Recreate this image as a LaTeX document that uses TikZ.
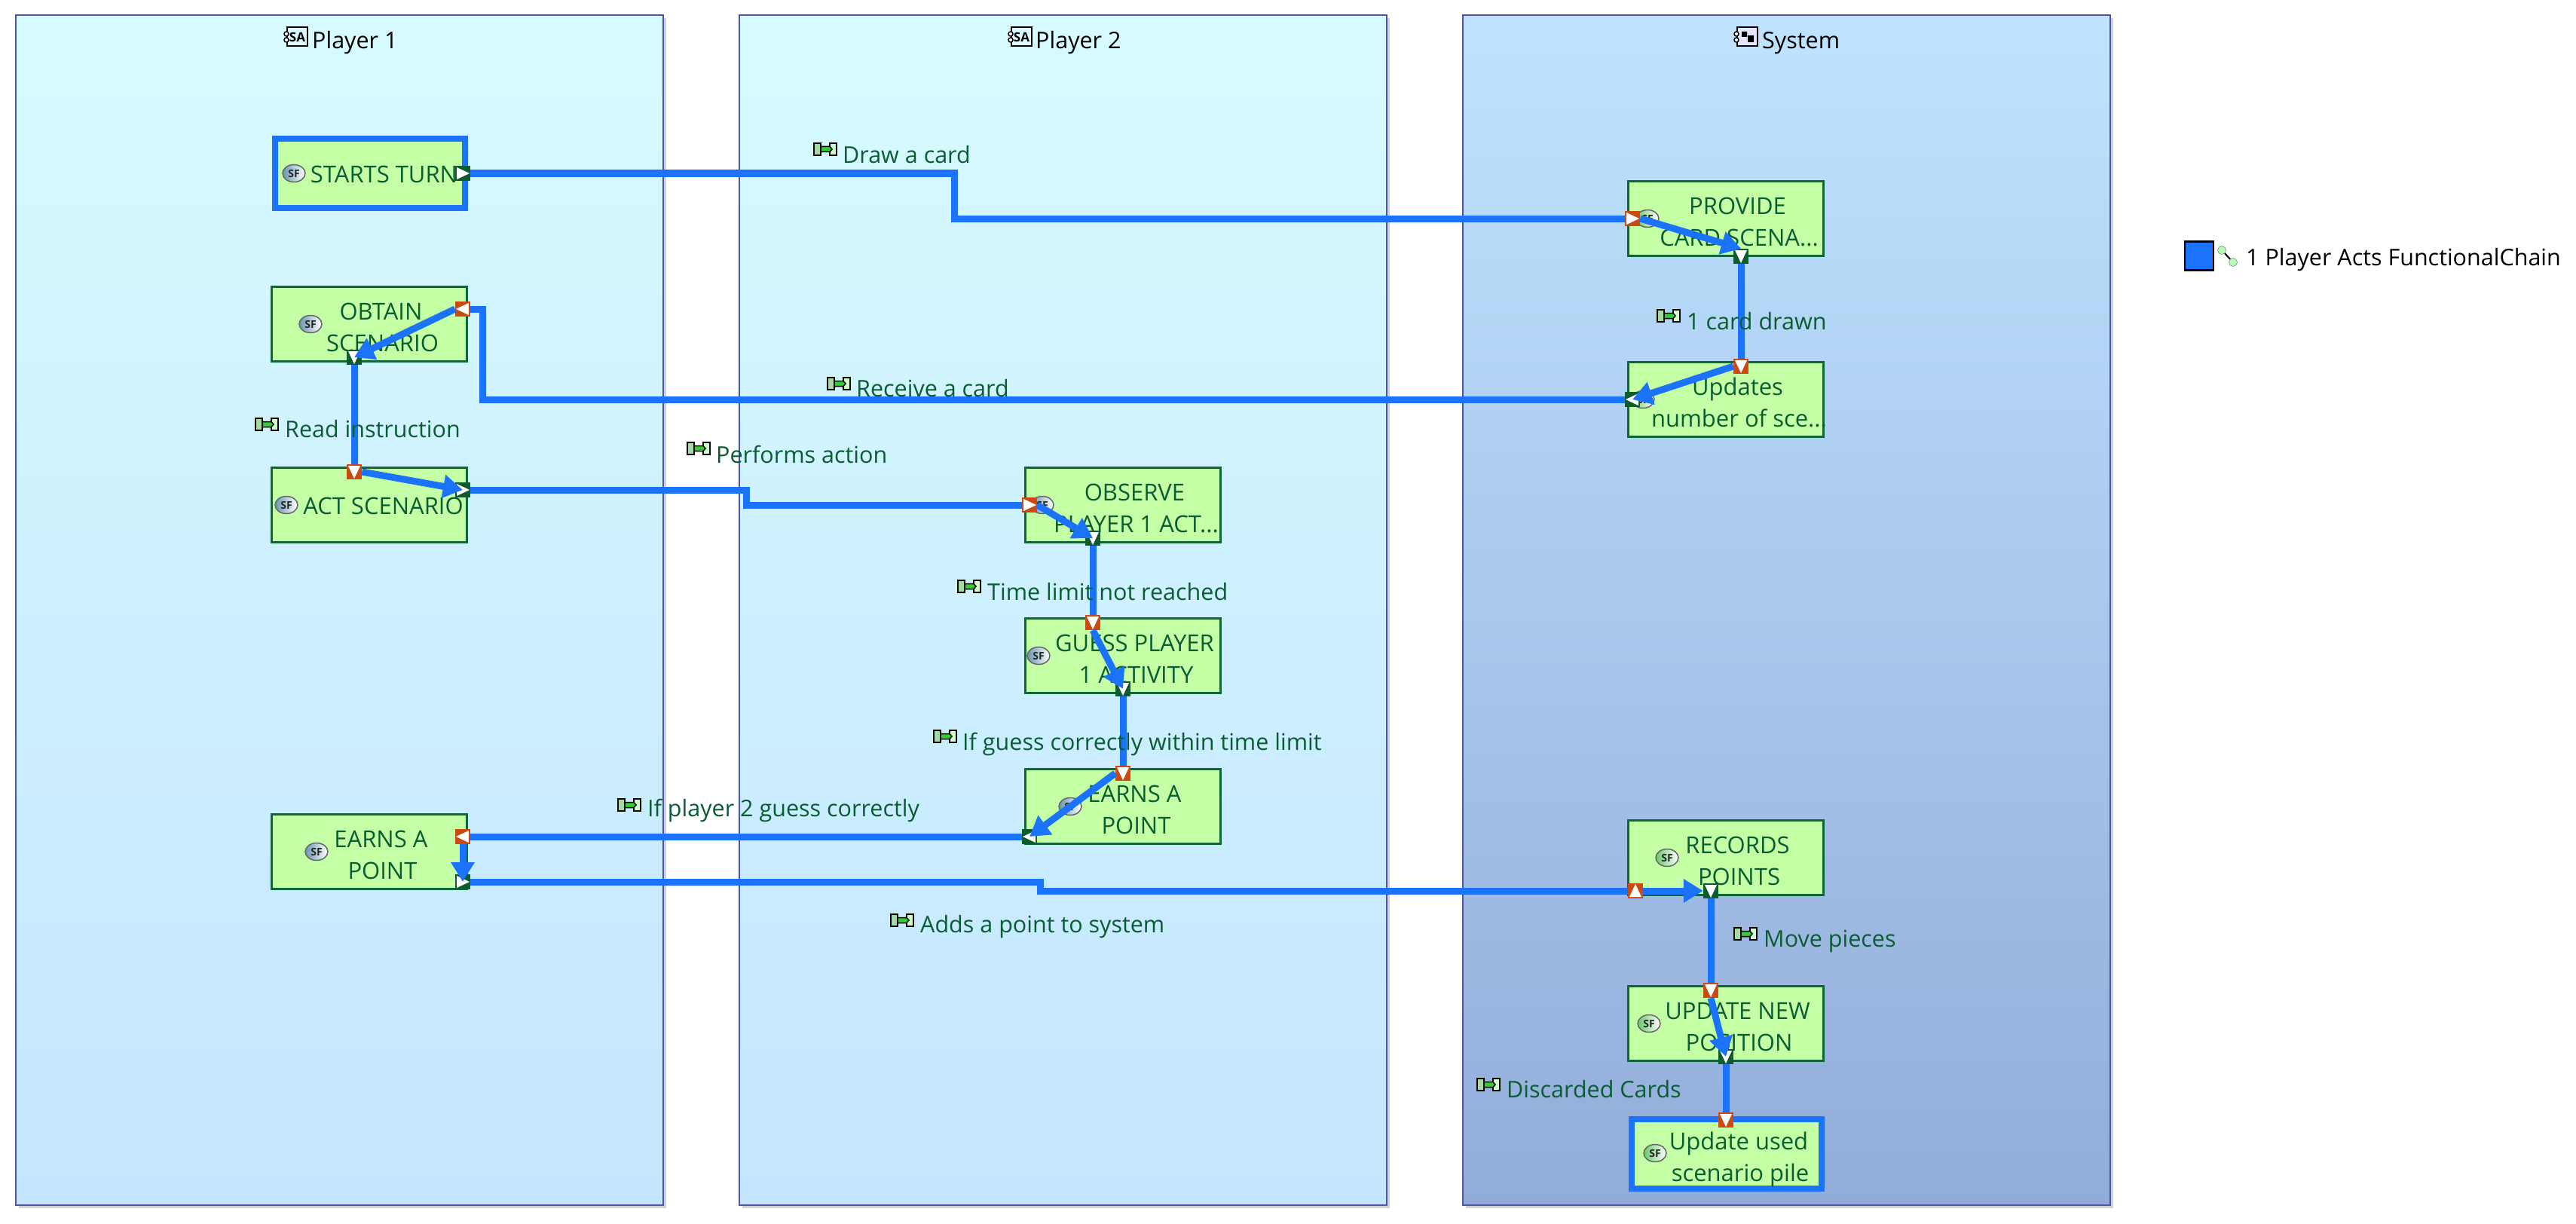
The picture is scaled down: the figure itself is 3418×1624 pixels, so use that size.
\documentclass[tikz,border=0pt]{standalone}
\usepackage{fontspec}
\setmainfont{Open Sans}
\usetikzlibrary{arrows.meta,shapes.geometric}
\definecolor{chainblue}{HTML}{1A73FA}
\definecolor{fnfill}{HTML}{C5FFA5}
\definecolor{fnline}{HTML}{0F6638}
\definecolor{fntext}{HTML}{0A5C32}
\definecolor{portorange}{HTML}{CB4A12}
\definecolor{portgreen}{HTML}{0D5C2E}
\definecolor{panelline}{HTML}{4F54A5}
\definecolor{acttop}{HTML}{D7FBFF}
\definecolor{actbot}{HTML}{C4E5FF}
\definecolor{systop}{HTML}{C0E4FF}
\definecolor{sysbot}{HTML}{92ACD9}
\newcommand{\ftxt}[2]{\raisebox{-14pt}[0pt][0pt]{\makebox[0pt]{\hspace{36pt}\begin{tabular}{@{}c@{}}\hspace*{-4pt}#1\\[1pt]#2\end{tabular}}}}
\newcommand{\fone}[1]{\raisebox{-13pt}[0pt][0pt]{\makebox[0pt]{\hspace{38pt}#1}}}
\tikzset{
  panel/.style={draw=panelline,line width=2.5pt,outer sep=0pt,minimum width=859pt,minimum height=1579pt,anchor=north west,inner sep=0pt},
  shadowbox/.style={fill=black!18,outer sep=0pt,minimum width=859pt,minimum height=1579pt,anchor=north west,inner sep=0pt},
  fnbox/.style={draw=fnline,line width=3pt,fill=fnfill,minimum width=259pt,minimum height=99pt,inner sep=0pt,text=fntext,font=\fontsize{31}{41}\selectfont},
  fnsel/.style={fnbox,draw=chainblue,line width=8pt,minimum width=252pt,minimum height=92pt},
  sfblue/.style={ellipse,draw=black!60,line width=1.5pt,left color=blue!35!cyan!30!gray!90,right color=white,minimum width=30pt,minimum height=23pt,inner sep=0pt,font=\fontsize{14}{14}\selectfont\bfseries,text=black!85},
  sfgreen/.style={sfblue,left color=green!45!gray!80,right color=white},
  portO/.style={rectangle,fill=portorange,minimum size=20pt,inner sep=0pt,
    path picture={\fill[white,shift={(path picture bounding box.center)}] ({-(#1)}:9) -- ({-(#1)+135}:11.3) -- ({-(#1)-135}:11.3) -- cycle;}},
  portG/.style={portO=#1,fill=portgreen},
  chain/.style={draw=chainblue,line width=9pt},
  chainarrow/.style={chain,-{Triangle[length=26pt,width=30pt]}},
  exch/.style={anchor=west,text=fntext,inner sep=0pt,font=\fontsize{30.5}{36}\selectfont},
  title/.style={anchor=west,text=black,inner sep=0pt,font=\fontsize{30.5}{36}\selectfont},
  exicon/.style={rectangle,inner sep=0pt,minimum width=33pt,minimum height=19pt,
    path picture={\begin{scope}[shift={(path picture bounding box.center)},draw=black,line width=2pt]
      \filldraw[fill=green!45!gray!50] (-15,-8) rectangle (-6,8);
      \filldraw[fill=green!20!white] (6,-8) rectangle (15,8);
      \filldraw[fill=green!60!gray,line width=1.5pt] (-6,-3.5) -- (6,-3.5) -- (9,0) -- (6,3.5) -- (-6,3.5) -- cycle;
    \end{scope}}},
  saicon/.style={rectangle,draw=black,line width=2pt,fill=#1,minimum width=27pt,minimum height=25pt,inner sep=0pt,font=\fontsize{17}{17}\selectfont\bfseries},
  stud/.style={circle,draw=black,line width=1.5pt,fill=white,minimum size=6pt,inner sep=0pt},
  legdot/.style={circle,draw=black!60,fill=green!30,minimum size=11pt,inner sep=0pt},
}
\begin{document}
\begin{tikzpicture}[x=1pt,y=-1pt]
\useasboundingbox (0,0) rectangle (3418,1624);
\fill[white] (0,0) rectangle (3418,1624);
% panels
\node[shadowbox] (shadow1) at (25,24) {};
\node[shadowbox] (shadow2) at (985,24) {};
\node[shadowbox] (shadow3) at (1945,24) {};
\node[panel,top color=acttop,bottom color=actbot] (player1) at (21,20) {};
\node[panel,top color=acttop,bottom color=actbot] (player2) at (981,20) {};
\node[panel,top color=systop,bottom color=sysbot] (system) at (1941,20) {};
\node[saicon=acttop] (i1) at (394.5,49) {SA};
\node[stud] at (380,45) {};\node[stud] at (380,53) {};
\node[title] (t1) at (414,57) {Player 1};
\node[saicon=acttop] (i2) at (1355.5,49) {SA};
\node[stud] at (1341,45) {};\node[stud] at (1341,53) {};
\node[title] (t2) at (1374,57) {Player 2};
\node[saicon=blue!10] (i3) at (2318,49) {};
\node[stud] at (2304,45) {};\node[stud] at (2304,53) {};
\fill[black] (2311,42) rectangle (2318,49) (2319,47) rectangle (2327,56);
\node[title] (t3) at (2338,57) {System};
% functions
\node[fnsel] (starts) at (490.5,230) {\fone{STARTS TURN}};
\node[fnbox] (obtain) at (489.5,429.5) {\ftxt{OBTAIN}{SCENARIO}};
\node[fnbox] (act) at (489.5,669.5) {\fone{ACT SCENARIO}};
\node[fnbox] (earns1) at (489.5,1129.5) {\ftxt{EARNS A}{POINT}};
\node[fnbox] (observe) at (1489.5,669.5) {\ftxt{OBSERVE}{PLAYER 1 ACT...}};
\node[fnbox] (guess) at (1489.5,870) {\ftxt{GUESS PLAYER}{1 ACTIVITY}};
\node[fnbox] (earns2) at (1489.5,1070) {\ftxt{EARNS A}{POINT}};
\node[fnbox] (provide) at (2289.5,289.5) {\ftxt{PROVIDE}{CARD SCENA...}};
\node[fnbox] (updates) at (2289.5,529.5) {\ftxt{Updates}{number of sce...}};
\node[fnbox] (records) at (2289.5,1137.5) {\ftxt{RECORDS}{POINTS}};
\node[fnbox] (update) at (2289.5,1357.5) {\ftxt{UPDATE NEW}{POSITION}};
\node[fnsel] (used) at (2291,1531) {\ftxt{Update used}{scenario pile}};
% icons
\node[sfblue] (s1) at (390,230) {SF};
\node[sfblue] (s2) at (412,430) {SF};
\node[sfblue] (s3) at (380,670) {SF};
\node[sfblue] (s4) at (420,1130) {SF};
\node[sfblue] (s5) at (1383,670) {SF};
\node[sfblue] (s6) at (1378,870) {SF};
\node[sfblue] (s7) at (1420,1070) {SF};
\node[sfgreen] (s8) at (2186,290) {SF};
\node[sfgreen] (s9) at (2180,530) {SF};
\node[sfgreen] (s10) at (2212,1138) {SF};
\node[sfgreen] (s11) at (2188,1358) {SF};
\node[sfgreen] (s12) at (2196,1530) {SF};
% ports
\node[portG=0] (pStartsOut) at (614,230) {};
\node[portO=180] (pObtainIn) at (614,410) {};
\node[portG=270] (pObtainOut) at (470,474) {};
\node[portO=270] (pActIn) at (470,626) {};
\node[portG=0] (pActOut) at (614,650) {};
\node[portO=180] (pEarnIn) at (614,1110) {};
\node[portG=0] (pEarnOut) at (614,1170) {};
\node[portO=0] (pObsIn) at (1366,670) {};
\node[portG=270] (pObsOut) at (1450,714) {};
\node[portO=270] (pGuessIn) at (1450,826) {};
\node[portG=270] (pGuessOut) at (1490,914) {};
\node[portO=270] (pE2In) at (1490,1026) {};
\node[portG=180] (pE2Out) at (1366,1110) {};
\node[portO=0] (pProvIn) at (2166,290) {};
\node[portG=270] (pProvOut) at (2310,340) {};
\node[portO=270] (pUpdIn) at (2310,486) {};
\node[portG=180] (pUpdOut) at (2166,530) {};
\node[portO=90] (pRecIn) at (2170,1182) {};
\node[portG=270] (pRecOut) at (2270,1182) {};
\node[portO=270] (pNewIn) at (2270,1314) {};
\node[portG=270] (pNewOut) at (2290,1402) {};
\node[portO=270] (pUsedIn) at (2290,1486) {};
% bends
\coordinate (b1) at (1266,230);
\coordinate (b2) at (1266,290);
\coordinate (b3) at (640,530);
\coordinate (b4) at (640,410);
\coordinate (b5) at (990,650);
\coordinate (b6) at (990,670);
\coordinate (b7) at (1380,1170);
\coordinate (b8) at (1380,1182);
% connectors
\draw[chain] (pStartsOut.east) -- (b1) -- (b2) -- (pProvIn.west);
\draw[chainarrow] (pProvIn.east) -- (pProvOut.north);
\draw[chain] (pProvOut.south) -- (pUpdIn.north);
\draw[chainarrow] (pUpdIn.west) -- (pUpdOut.center);
\draw[chain] (pUpdOut.west) -- (b3) -- (b4) -- (pObtainIn.east);
\draw[chainarrow] (pObtainIn.west) -- (pObtainOut.center);
\draw[chain] (pObtainOut.south) -- (pActIn.north);
\draw[chainarrow] (pActIn.east) -- (pActOut.center);
\draw[chain] (pActOut.east) -- (b5) -- (b6) -- (pObsIn.west);
\draw[chainarrow] (pObsIn.east) -- (pObsOut.center);
\draw[chain] (pObsOut.south) -- (pGuessIn.north);
\draw[chainarrow] (pGuessIn.south) -- (pGuessOut.center);
\draw[chain] (pGuessOut.south) -- (pE2In.north);
\draw[chainarrow] (pE2In.west) -- (pE2Out.center);
\draw[chain] (pE2Out.west) -- (pEarnIn.east);
\draw[chainarrow] (pEarnIn.south) -- (pEarnOut.center);
\draw[chain] (pEarnOut.east) -- (b7) -- (b8) -- (pRecIn.west);
\draw[chainarrow] (pRecIn.east) -- (pRecOut.west);
\draw[chain] (pRecOut.south) -- (pNewIn.north);
\draw[chainarrow] (pNewIn.south) -- (pNewOut.center);
\draw[chain] (pNewOut.south) -- (pUsedIn.north);
% exchange labels
\foreach \nm/\ix/\iy/\tx/\ty/\lab in {
  a/1095/198/1118/205/{Draw a card},
  b/1113/509/1136/515/{Receive a card},
  c/2214/419/2238/426/{1 card drawn},
  d/354/563/378/569/{Read instruction},
  e/927/595/950/603/{Performs action},
  f/1286/778/1310/785/{Time limit not reached},
  h/835/1068/859/1075/{If player 2 guess correctly},
  i/1197/1221/1221/1230/{Adds a point to system},
  j/2316/1239/2340/1249/{Move pieces},
  k/1975/1439/1999/1445/{Discarded Cards}}{
  \node[exicon] (ic\nm) at (\ix,\iy) {};
  \node[exch] (lb\nm) at (\tx,\ty) {\lab};
}
\node[exicon] (icg) at (1254,977) {};
\begin{scope}
\clip (1270,950) rectangle (1753,1020);
\node[exch] (lbg) at (1277,987) {If guess correctly within time limit};
\end{scope}
% legend
\node[rectangle,draw=black,line width=2.5pt,fill=chainblue,minimum size=38pt,inner sep=0pt] (legendbox) at (2918,339.5) {};
\node[legdot] (leg1) at (2948,332) {};
\node[legdot] (leg2) at (2963,348) {};
\draw[black,line width=2pt] (leg1) -- (leg2);
\node[title] (legendtext) at (2980,345) {1 Player Acts FunctionalChain};
\end{tikzpicture}
\end{document}
